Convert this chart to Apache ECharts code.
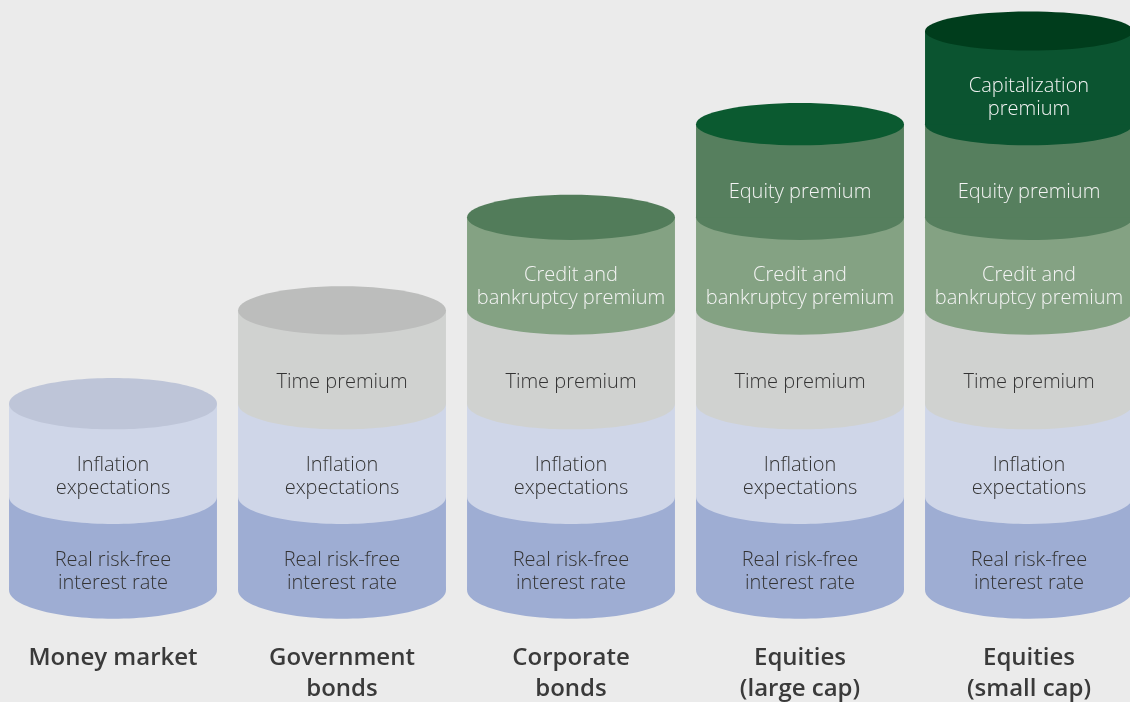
<!DOCTYPE html>
<html>
<head>
<meta charset="utf-8">
<script src="https://cdn.jsdelivr.net/npm/echarts@6/dist/echarts.min.js"></script>
<style>
html, body { margin: 0; padding: 0; background: #ebebeb; }
#chart { width: 1130px; height: 702px; }
</style>
</head>
<body>
<div id="chart"></div>
<script>
// categories along the bottom
var categories = ['Money market', 'Government\nbonds', 'Corporate\nbonds', 'Equities\n(large cap)', 'Equities\n(small cap)'];

// layer names, bottom to top
var layerNames = [
	'Real risk-free\ninterest rate',
	'Inflation\nexpectations',
	'Time premium',
	'Credit and\nbankruptcy premium',
	'Equity premium',
	'Capitalization\npremium'
];

// each layer's size per category (0 = not present)
var realRate = [1, 1, 1, 1, 1];
var inflation = [1, 1, 1, 1, 1];
var timePremium = [0, 1, 1, 1, 1];
var creditPremium = [0, 0, 1, 1, 1];
var equityPremium = [0, 0, 0, 1, 1];
var capPremium = [0, 0, 0, 0, 1];

var layers = [realRate, inflation, timePremium, creditPremium, equityPremium, capPremium];

// colours: side, top face, text
var sideColors = ['#9eadd3', '#cfd6e8', '#d0d2d0', '#84a283', '#567f5e', '#0b5430'];
var topColors = ['#8e9dc3', '#bec5d8', '#bcbdbc', '#527c5a', '#0b5a30', '#003d1c'];
var textColors = ['#333333', '#333333', '#333333', '#f4f4f4', '#f4f4f4', '#f4f4f4'];

// stack the layers
var base = categories.map(function () { return 0; });
var total = categories.map(function (c, i) {
	var s = 0;
	layers.forEach(function (l) { s += l[i]; });
	return s;
});

// ellipse half height grows a bit lower down (perspective)
function ryAt(py) {
	return 19.5 + 0.0165 * (py - 30);
}

function makeRender(li) {
	return function (params, api) {
		var x = api.value(0);
		var b = api.value(1);
		var t = api.value(2);
		var isTop = api.value(3);
		var pb = api.coord([x, b]);
		var pt = api.coord([x, t]);
		var cx = pb[0];
		var rx = api.size([1, 0])[0] * 0.454;
		var ryB = ryAt(pb[1]);
		var ryT = ryAt(pt[1]);
		var children = [
			{
				type: 'ellipse',
				shape: { cx: cx, cy: pb[1], rx: rx, ry: ryB },
				style: { fill: sideColors[li] }
			},
			{
				type: 'rect',
				shape: { x: cx - rx, y: pt[1], width: rx * 2, height: pb[1] - pt[1] },
				style: { fill: sideColors[li] }
			}
		];
		if (isTop) {
			children.push({
				type: 'ellipse',
				shape: { cx: cx, cy: pt[1], rx: rx, ry: ryT },
				style: { fill: topColors[li] }
			});
		}
		children.push({
			type: 'text',
			x: cx,
			y: (pb[1] + pt[1]) / 2 + (ryB + ryT) / 2,
			style: {
				text: layerNames[li],
				fill: textColors[li],
				font: '300 20px "Open Sans"',
				lineHeight: 23,
				align: 'center',
				verticalAlign: 'middle'
			}
		});
		return { type: 'group', children: children };
	};
}

var series = [];
layers.forEach(function (l, li) {
	var data = [];
	l.forEach(function (v, i) {
		if (v > 0) {
			var top = base[i] + v;
			data.push([i, base[i], top, top === total[i] ? 1 : 0]);
			base[i] = top;
		}
	});
	series.push({
		name: layerNames[li],
		type: 'custom',
		coordinateSystem: 'cartesian2d',
		clip: false,
		renderItem: makeRender(li),
		encode: { x: 0, y: [1, 2] },
		data: data,
		z: 2 + li
	});
});

var myChart = echarts.init(document.getElementById('chart'));
var option = {
	backgroundColor: '#ebebeb',
	animation: false,
	grid: { left: 113, right: 101, top: 31, bottom: 112, containLabel: false, outerBoundsMode: 'none' },
	xAxis: {
		type: 'category',
		boundaryGap: false,
		data: categories,
		axisLine: { show: false },
		axisTick: { show: false },
		axisLabel: {
			interval: 0,
			margin: 53,
			color: '#3a3a3a',
			fontFamily: 'Open Sans',
			fontWeight: 600,
			fontSize: 24,
			lineHeight: 31
		}
	},
	yAxis: {
		type: 'value',
		min: 0,
		max: 6,
		show: false
	},
	series: series
};
option && myChart.setOption(option);
</script>
</body>
</html>
